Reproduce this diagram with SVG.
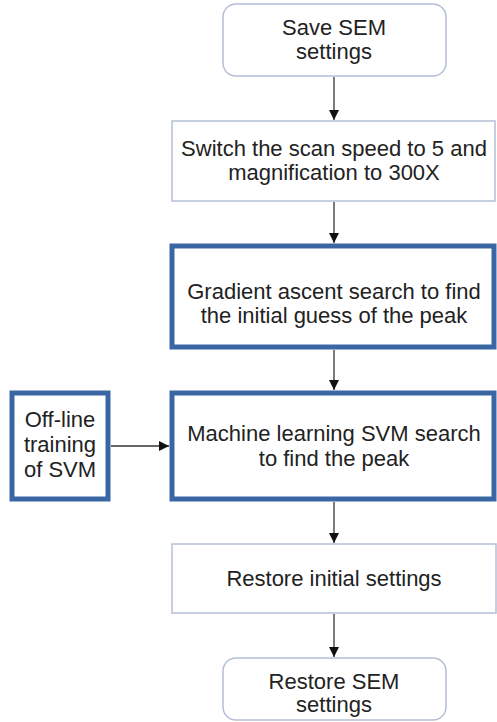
<svg xmlns="http://www.w3.org/2000/svg" width="497" height="722" viewBox="0 0 497 722">
<defs>
<marker id="ah" markerWidth="10" markerHeight="10" refX="10" refY="5" orient="auto" markerUnits="userSpaceOnUse">
<path d="M0,0 L10,5 L0,10 Z" fill="#111"/>
</marker>
<style>
.thin{fill:#fff;stroke:#b4bfd6;stroke-width:1.5}
.thick{fill:#fff;stroke:#3a67a4;stroke-width:5}
.t{font-family:"Liberation Sans",Arial,sans-serif;font-size:22px;fill:#222;text-anchor:middle}
.c{stroke:#333;stroke-width:1.3;fill:none;marker-end:url(#ah)}
</style>
</defs>
<rect width="497" height="722" fill="#fff"/>
<g id="n1"><rect class="thin" x="223" y="4" width="223" height="72" rx="13"/>
<text class="t" x="334" y="35">Save SEM</text><text class="t" x="334" y="59">settings</text></g>
<g id="n2"><rect class="thin" x="172" y="121" width="323" height="80"/>
<text class="t" x="334" y="156">Switch the scan speed to 5 and</text><text class="t" x="334" y="180">magnification to 300X</text></g>
<g id="n3"><rect class="thick" x="172" y="246" width="322" height="101"/>
<text class="t" x="334" y="299">Gradient ascent search to find</text><text class="t" x="334" y="323">the initial guess of the peak</text></g>
<g id="n4"><rect class="thick" x="172" y="393" width="322" height="106"/>
<text class="t" x="334" y="441">Machine learning SVM search</text><text class="t" x="334" y="466">to find the peak</text></g>
<g id="n5"><rect class="thick" x="12" y="393" width="96" height="106"/>
<text class="t" x="60" y="427">Off-line</text><text class="t" x="60" y="452">training</text><text class="t" x="60" y="477">of SVM</text></g>
<g id="n6"><rect class="thin" x="172" y="544" width="324" height="69"/>
<text class="t" x="334" y="586">Restore initial settings</text></g>
<g id="n7"><rect class="thin" x="223" y="658" width="223" height="62" rx="13"/>
<text class="t" x="334" y="689">Restore SEM</text><text class="t" x="334" y="712">settings</text></g>
<g id="connectors">
<line class="c" x1="334" y1="77" x2="334" y2="120"/>
<line class="c" x1="334" y1="202" x2="334" y2="243"/>
<line class="c" x1="334" y1="350" x2="334" y2="390"/>
<line class="c" x1="334" y1="502" x2="334" y2="543"/>
<line class="c" x1="334" y1="614" x2="334" y2="657"/>
<line class="c" x1="111" y1="446" x2="169" y2="446"/>
</g>
</svg>
